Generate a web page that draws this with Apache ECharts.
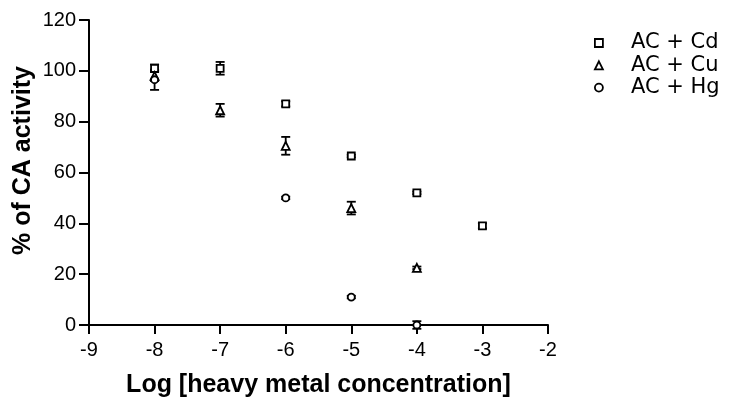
<!DOCTYPE html>
<html><head><meta charset="utf-8">
<script src="https://cdn.jsdelivr.net/npm/echarts@6/dist/echarts.min.js"></script>
<style>html,body{margin:0;padding:0;background:#fff}#c{width:730px;height:399px}</style>
</head><body><div id="c"></div>
<script>
const xTicks = [-9,-8,-7,-6,-5,-4,-3,-2];
const yTicks = [0,20,40,60,80,100,120];

const cdX = [-8,-7,-6,-5,-4,-3];
const cdY = [101,101,87,66.5,52,39];
const cdErr = [1.5,2.5,1,0.5,0.5,1];

const cuX = [-8,-7,-6,-5,-4];
const cuY = [98,84.5,70.5,46,22.5];
const cuErr = [2,2.5,3.5,2.5,0.5];

const hgX = [-8,-6,-5,-4];
const hgY = [96.5,50,11,0];
const hgErr = [4,0.5,0.5,1.5];

const names = ['AC + Cd','AC + Cu','AC + Hg'];
const symbols = ['rect','triangle','circle'];
const xs = [cdX,cuX,hgX], ys=[cdY,cuY,hgY], errs=[cdErr,cuErr,hgErr];

const font = '"Liberation Sans", Arial, sans-serif';
const series = [];
names.forEach((n,i)=>{
  const errData = xs[i].map((x,j)=>[x, ys[i][j]-errs[i][j], ys[i][j]+errs[i][j]]);
  series.push({
    type:'custom', name:n+'_err', silent:true, z:1,
    data: errData,
    renderItem:(params, api)=>{
      const x=api.value(0), lo=api.value(1), hi=api.value(2);
      const pLo=api.coord([x,lo]), pHi=api.coord([x,hi]);
      const w=4.5;
      const st={stroke:'#000', lineWidth:1.8};
      return {type:'group', children:[
        {type:'line', shape:{x1:pLo[0],y1:pLo[1],x2:pHi[0],y2:pHi[1]}, style:st},
        {type:'line', shape:{x1:pLo[0]-w,y1:pLo[1],x2:pLo[0]+w,y2:pLo[1]}, style:st},
        {type:'line', shape:{x1:pHi[0]-w,y1:pHi[1],x2:pHi[0]+w,y2:pHi[1]}, style:st}
      ]};
    }
  });
});
names.forEach((n,i)=>{
  series.push({
    type:'scatter', name:n, z:5,
    symbol:symbols[i], symbolSize: symbols[i]==='triangle'?8:7,
    itemStyle:{color:'#fff', borderColor:'#000', borderWidth:1.8, opacity:1},
    data: xs[i].map((x,j)=>[x, ys[i][j]])
  });
});

const chart = echarts.init(document.getElementById('c'), null, {renderer:'canvas'});
chart.setOption({
  animation:false,
  grid:{left:89, right:182, top:20, bottom:74, containLabel:false, outerBoundsMode:'none'},
  legend:{
    orient:'vertical', left:589, top:27, itemGap:0.3,
    itemWidth:8, itemHeight:8,
    data: names.map((n,i)=>({name:n, icon:symbols[i], itemStyle:{color:'#fff', borderColor:'#000', borderWidth:1.8}})),
    textStyle:{fontFamily:'"DejaVu Sans", sans-serif', fontSize:21, lineHeight:22, color:'#000', padding:[0,0,0,23]}
  },
  xAxis:{
    type:'value', min:-9, max:-2, interval:1,
    name:'Log [heavy metal concentration]', nameLocation:'middle', nameGap:48, nameMoveOverlap:false,
    nameTextStyle:{fontFamily:font, fontSize:25, fontWeight:'bold', color:'#000'},
    axisLine:{show:true, onZero:false, lineStyle:{color:'#000', width:2}},
    axisTick:{show:true, length:9, lineStyle:{color:'#000', width:2}},
    axisLabel:{fontFamily:font, fontSize:20, color:'#000', margin:15},
    splitLine:{show:false}
  },
  yAxis:{
    type:'value', min:0, max:120, interval:20,
    name:'% of CA activity', nameLocation:'middle', nameGap:53, nameRotate:90, nameMoveOverlap:false,
    nameTextStyle:{fontFamily:font, fontSize:25, fontWeight:'bold', color:'#000', padding:[0,0,0,24]},
    axisLine:{show:true, onZero:false, lineStyle:{color:'#000', width:2}},
    axisTick:{show:true, length:10, lineStyle:{color:'#000', width:2}},
    axisLabel:{fontFamily:font, fontSize:20, color:'#000', margin:13},
    splitLine:{show:false}
  },
  series: series
});
</script></body></html>
